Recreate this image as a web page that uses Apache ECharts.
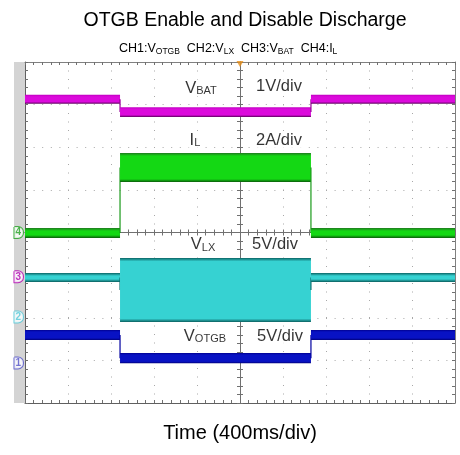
<!DOCTYPE html>
<html><head><meta charset="utf-8">
<script src="https://cdn.jsdelivr.net/npm/echarts@6/dist/echarts.min.js"></script>
<style>html,body{margin:0;padding:0;background:#fff}#c{width:460px;height:455px}</style>
</head><body><div id="c"></div>
<script>
// ---- data ----
// time in ms relative to trigger, 400 ms/div, 10 div
const timeRange = [-2000, 2000];
const timeDiv = 400;
// segment boundaries: before OTG enable, OTG on, after disable
const segEdges = [-2000, -1116, 660, 2000];
// trace envelopes (min/max incl. noise) per segment, in channel units
const vbatMin  = [4.06, 3.75, 4.06];   // V
const vbatMax  = [4.27, 3.98, 4.27];
const ilMin    = [-0.26, 2.37, -0.26]; // A
const ilMax    = [0.21, 3.73, 0.21];
const vlxMin   = [4.10, -0.60, 4.10];  // V
const vlxMax   = [5.15, 6.91, 5.15];
const votgbMin = [2.69, -0.05, 2.69];  // V
const votgbMax = [3.87, 1.17, 3.87];
// channel scales (units/div) and ground reference levels (div from center)
const chScale  = {ch1: 5, ch2: 5, ch3: 1, ch4: 2};
const chGround = {ch1: -3.06, ch2: -1.98, ch3: -1.04, ch4: 0};
const chMarks  = ['1', '2', '3', '4'];

// ---- styling ----
const FONT = 'Liberation Sans, Arial, sans-serif';
const channels = [
  {key:'ch3', edge:'#9a009a', lo:vbatMin, hi:vbatMax, top:'#c000c0', mid:'#dc0adc', bot:'#5a005a', edgePx:2},
  {key:'ch4', edge:'#1a9a1a', lo:ilMin, hi:ilMax, top:'#1f7a1f', mid:'#14d814', bot:'#0a5a0a', edgePx:3},
  {key:'ch2', edge:'#0a7070', lo:vlxMin, hi:vlxMax, top:'#0a6464', mid:'#36d2d2', bot:'#0a5e5e', edgePx:3.5},
  {key:'ch1', edge:'#0000a0', lo:votgbMin, hi:votgbMax, top:'#000090', mid:'#0812c4', bot:'#000078', edgePx:2}
];
const markColors = {'1':'#5050c8','2':'#50c8d8','3':'#b000b0','4':'#20a020'};

function toDiv(key, v){ return chGround[key] + v / chScale[key]; }

function bandSeries(ch){
  const data = ch.lo.map((v,i)=>[segEdges[i], segEdges[i+1], toDiv(ch.key, ch.lo[i]), toDiv(ch.key, ch.hi[i])]);
  return {
    type:'custom', xAxisIndex:0, yAxisIndex:0, z:3, silent:true,
    data: data,
    renderItem: function(params, api){
      const i = params.dataIndex;
      const t0 = api.value(0), t1 = api.value(1), lo = api.value(2), hi = api.value(3);
      const a = api.coord([t0, hi]), b = api.coord([t1, lo]);
      const h = b[1]-a[1];
      const e = Math.min(ch.edgePx / h, 0.33);
      const children = [];
      if (i > 0) {
        const p = data[i-1];
        const pm = (p[2]+p[3])/2, cm = (lo+hi)/2;
        const c0 = api.coord([t0, pm]), c1 = api.coord([t0, cm]);
        children.push({type:'line', shape:{x1:c0[0], y1:c0[1], x2:c1[0], y2:c1[1]},
          style:{stroke:ch.edge, lineWidth:1.2}});
      }
      children.push({type:'rect', shape:{x:a[0], y:a[1], width:b[0]-a[0], height:h},
        style:{fill:new echarts.graphic.LinearGradient(0,0,0,1,[
          {offset:0, color:ch.top},{offset:e, color:ch.mid},{offset:1-e, color:ch.mid},{offset:1, color:ch.bot}])}});
      return {type:'group', children:children};
    }
  };
}

const annotations = [
  {t:-363, y:3.39, text:'{m|V}{s|BAT}'},
  {t: 363, y:3.42, text:'{m|1V/div}'},
  {t:-419, y:2.17, text:'{m|I}{s|L}'},
  {t: 363, y:2.17, text:'{m|2A/div}'},
  {t:-344, y:-0.29, text:'{m|V}{s|LX}'},
  {t: 326, y:-0.29, text:'{m|5V/div}'},
  {t:-326, y:-2.43, text:'{m|V}{s|OTGB}'},
  {t: 372, y:-2.43, text:'{m|5V/div}'}
];

const minorTick = {show:true, splitNumber:5, length:3, lineStyle:{color:'#707070', width:1}};
const baseX = {type:'value', min:timeRange[0], max:timeRange[1], interval:timeDiv,
  axisLabel:{show:false}, splitLine:{show:false}};
const baseY = {type:'value', min:-4, max:4, interval:1,
  axisLabel:{show:false}, splitLine:{show:false}};

const option = {
  animation:false,
  backgroundColor:'#fff',
  title:[
    {text:'OTGB Enable and Disable Discharge', left:240, textAlign:'center', top:6,
     textStyle:{fontFamily:FONT, fontSize:19.5, fontWeight:'normal', color:'#000'}},
    {text:'{a|CH1:V}{b|OTGB}{a|  CH2:V}{b|LX}{a|  CH3:V}{b|BAT}{a|  CH4:I}{b|L}', left:114, top:37,
     textStyle:{fontWeight:'normal', rich:{
       a:{fontFamily:FONT, fontSize:12.5, fontWeight:'normal', color:'#000'},
       b:{fontFamily:FONT, fontSize:8.5, fontWeight:'normal', color:'#000', padding:[5,0,0,0]}}}}
  ],
  grid:{left:25, right:5, top:62, bottom:52, show:false},
  graphic:[{type:'rect', left:14, top:62, shape:{width:11, height:341}, style:{fill:'#d4d4d4'}, z:0}],
  xAxis:[
    Object.assign({}, baseX, {position:'bottom', axisLine:{onZero:false, lineStyle:{color:'#606060'}},
      axisTick:{show:true, inside:true, length:3, lineStyle:{color:'#707070'}}, minorTick:minorTick,
      splitLine:{show:true, lineStyle:{color:'#a8a8a8', width:1, type:[1,7.5]}},
      name:'Time (400ms/div)', nameLocation:'middle', nameGap:20,
      nameTextStyle:{fontFamily:FONT, fontSize:20, color:'#000'}}),
    Object.assign({}, baseX, {position:'top', axisLine:{onZero:false, lineStyle:{color:'#808080'}},
      axisTick:{show:true, inside:true, length:3, lineStyle:{color:'#707070'}}, minorTick:minorTick}),
    Object.assign({}, baseX, {position:'bottom', axisLine:{onZero:true, onZeroAxisIndex:0, lineStyle:{color:'#707070'}},
      axisTick:{show:true, inside:false, length:3, lineStyle:{color:'#707070'}}, minorTick:minorTick}),
    Object.assign({}, baseX, {position:'top', axisLine:{onZero:true, onZeroAxisIndex:0, lineStyle:{color:'#707070'}},
      axisTick:{show:true, inside:false, length:3, lineStyle:{color:'#707070'}}, minorTick:minorTick})
  ],
  yAxis:[
    Object.assign({}, baseY, {position:'left', axisLine:{show:true, onZero:false, lineStyle:{color:'#606060'}},
      axisTick:{show:true, inside:true, length:3, lineStyle:{color:'#707070'}}, minorTick:minorTick,
      splitLine:{show:true, lineStyle:{color:'#a8a8a8', width:1, type:[1,7.6]}}}),
    Object.assign({}, baseY, {position:'right', axisLine:{show:true, onZero:false, lineStyle:{color:'#808080'}},
      axisTick:{show:true, inside:true, length:3, lineStyle:{color:'#707070'}}, minorTick:minorTick}),
    Object.assign({}, baseY, {position:'left', axisLine:{show:true, onZero:true, onZeroAxisIndex:0, lineStyle:{color:'#707070'}},
      axisTick:{show:true, inside:false, length:3, lineStyle:{color:'#707070'}}, minorTick:minorTick}),
    Object.assign({}, baseY, {position:'right', axisLine:{show:true, onZero:true, onZeroAxisIndex:0, lineStyle:{color:'#707070'}},
      axisTick:{show:true, inside:false, length:3, lineStyle:{color:'#707070'}}, minorTick:minorTick})
  ],
  series: channels.map(bandSeries).concat([
    {type:'scatter', xAxisIndex:0, yAxisIndex:0, z:6, silent:true, symbolSize:0,
     data: annotations.map(a=>({value:[a.t, a.y], label:{formatter:a.text}})),
     label:{show:true, position:'inside', backgroundColor:'#fff', padding:[0,1],
       rich:{m:{fontFamily:FONT, fontSize:16.5, color:'#000'},
             s:{fontFamily:FONT, fontSize:11, color:'#000', padding:[6,0,0,0]}}}},
    {type:'scatter', xAxisIndex:0, yAxisIndex:0, z:6, silent:true, symbolSize:0, clip:false,
     data: chMarks.map(m=>({value:[timeRange[0], chGround['ch'+m]],
       label:{formatter:m, color:markColors[m], borderColor:markColors[m]}})),
     label:{show:true, position:'left', distance:2, fontFamily:FONT, fontSize:10, fontWeight:'bold',
       backgroundColor:'#fff', borderWidth:1, borderRadius:[0,5,5,0], padding:[1,2,0,1]}},
    {type:'scatter', xAxisIndex:0, yAxisIndex:0, z:7, silent:true, clip:false,
     symbol:'triangle', symbolRotate:180, symbolSize:[7,6], symbolOffset:[0,2],
     itemStyle:{color:'#e8901a'}, data:[[0, 4]]}
  ])
};
const chart = echarts.init(document.getElementById('c'));
chart.setOption(option);
</script></body></html>
